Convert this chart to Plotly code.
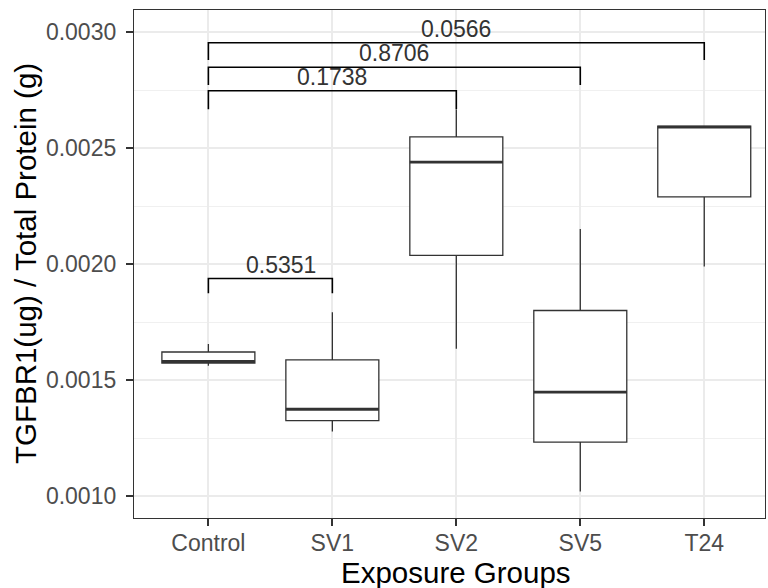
import plotly.graph_objects as go

# ---- data ----
groups = ["Control", "SV1", "SV2", "SV5", "T24"]
q1 = [0.001573, 0.001325, 0.002038, 0.001232, 0.002290]
median = [0.001580, 0.001374, 0.002440, 0.001448, 0.002591]
q3 = [0.001621, 0.001587, 0.002549, 0.001800, 0.002595]
lower_whisker = [0.001562, 0.001278, 0.001635, 0.001019, 0.001990]
upper_whisker = [0.001655, 0.001793, 0.002667, 0.002152, 0.002595]

comp_group1 = ["Control", "Control", "Control", "Control"]
comp_group2 = ["SV1", "SV2", "SV5", "T24"]
p_values = ["0.5351", "0.1738", "0.8706", "0.0566"]
bracket_level = [0.001938, 0.002748, 0.002849, 0.002955]
bracket_tip = [0.000064, 0.000080, 0.000076, 0.000075]
label_xshift = [11, 0, 0, 0]

y_ticks = [0.0010, 0.0015, 0.0020, 0.0025, 0.0030]
y_tick_labels = ["0.0010", "0.0015", "0.0020", "0.0025", "0.0030"]
y_minor = [0.00125, 0.00175, 0.00225, 0.00275]

FONT = "Liberation Sans, Arial, sans-serif"
pos = {g: i for i, g in enumerate(groups)}
xs = [pos[g] for g in groups]
BOXW = 0.75

fig = go.Figure()
fig.add_trace(go.Box(
    x=xs, q1=q1, median=median, q3=q3,
    lowerfence=lower_whisker, upperfence=upper_whisker,
    width=BOXW, whiskerwidth=0, boxpoints=False,
    fillcolor="white", line=dict(color="#333333", width=1.3),
    hoverinfo="skip", showlegend=False,
))
# thicker median lines (ggplot fatten)
for x, m in zip(xs, median):
    fig.add_trace(go.Scatter(
        x=[x - BOXW / 2, x + BOXW / 2], y=[m, m], mode="lines",
        line=dict(color="#333333", width=2.8), hoverinfo="skip", showlegend=False,
    ))

# significance brackets
for g1, g2, p, lvl, tip, xsh in zip(comp_group1, comp_group2, p_values, bracket_level, bracket_tip, label_xshift):
    a, b = pos[g1], pos[g2]
    fig.add_trace(go.Scatter(
        x=[a, a, b, b], y=[lvl - tip, lvl, lvl, lvl - tip], mode="lines",
        line=dict(color="black", width=1.6), hoverinfo="skip", showlegend=False,
    ))
    fig.add_annotation(
        x=(a + b) / 2, y=lvl, text=p, showarrow=False, yanchor="bottom",
        yshift=-1, xshift=xsh, font=dict(family=FONT, size=23, color="#333333"),
    )

# axis titles
fig.add_annotation(
    x=2, xref="x", y=0, yref="paper", yanchor="middle", yshift=-54,
    text="Exposure Groups", showarrow=False,
    font=dict(family=FONT, size=29.5, color="black"),
)
fig.add_annotation(
    x=0, xref="paper", y=0.5, yref="paper", xanchor="center", yanchor="middle",
    xshift=-109, textangle=-90,
    text="TGFBR1(ug) / Total Protein (g)", showarrow=False,
    font=dict(family=FONT, size=29.5, color="black"),
)

fig.update_layout(
    width=768, height=588,
    margin=dict(l=134, r=3, t=10, b=70, autoexpand=False),
    paper_bgcolor="white", plot_bgcolor="white",
    font=dict(family=FONT),
    xaxis=dict(
        range=[-0.6, 4.49], tickmode="array", tickvals=xs, ticktext=groups,
        showgrid=True, gridcolor="#EBEBEB", gridwidth=1.5,
        ticks="outside", ticklen=7, tickwidth=1.5, tickcolor="#333333",
        tickfont=dict(family=FONT, size=23, color="#4D4D4D"),
        ticklabelstandoff=-3,
        showline=True, linecolor="#333333", linewidth=1.3, mirror=True,
        zeroline=False, automargin=False,
    ),
    yaxis=dict(
        range=[0.000905, 0.0030962], tickmode="array", tickvals=y_ticks, ticktext=y_tick_labels,
        showgrid=True, gridcolor="#EBEBEB", gridwidth=1.5,
        minor=dict(tickmode="array", tickvals=y_minor,
                   showgrid=True, gridcolor="#F0F0F0", gridwidth=1, ticks=""),
        ticks="outside", ticklen=7, tickwidth=1.5, tickcolor="#333333",
        tickfont=dict(family=FONT, size=23, color="#4D4D4D"),
        ticklabelstandoff=5,
        showline=True, linecolor="#333333", linewidth=1.3, mirror=True,
        zeroline=False, automargin=False,
    ),
)

fig.write_html(
    "out.html",
    config={"displayModeBar": False},
    post_script="document.body.style.margin='0';",
)
